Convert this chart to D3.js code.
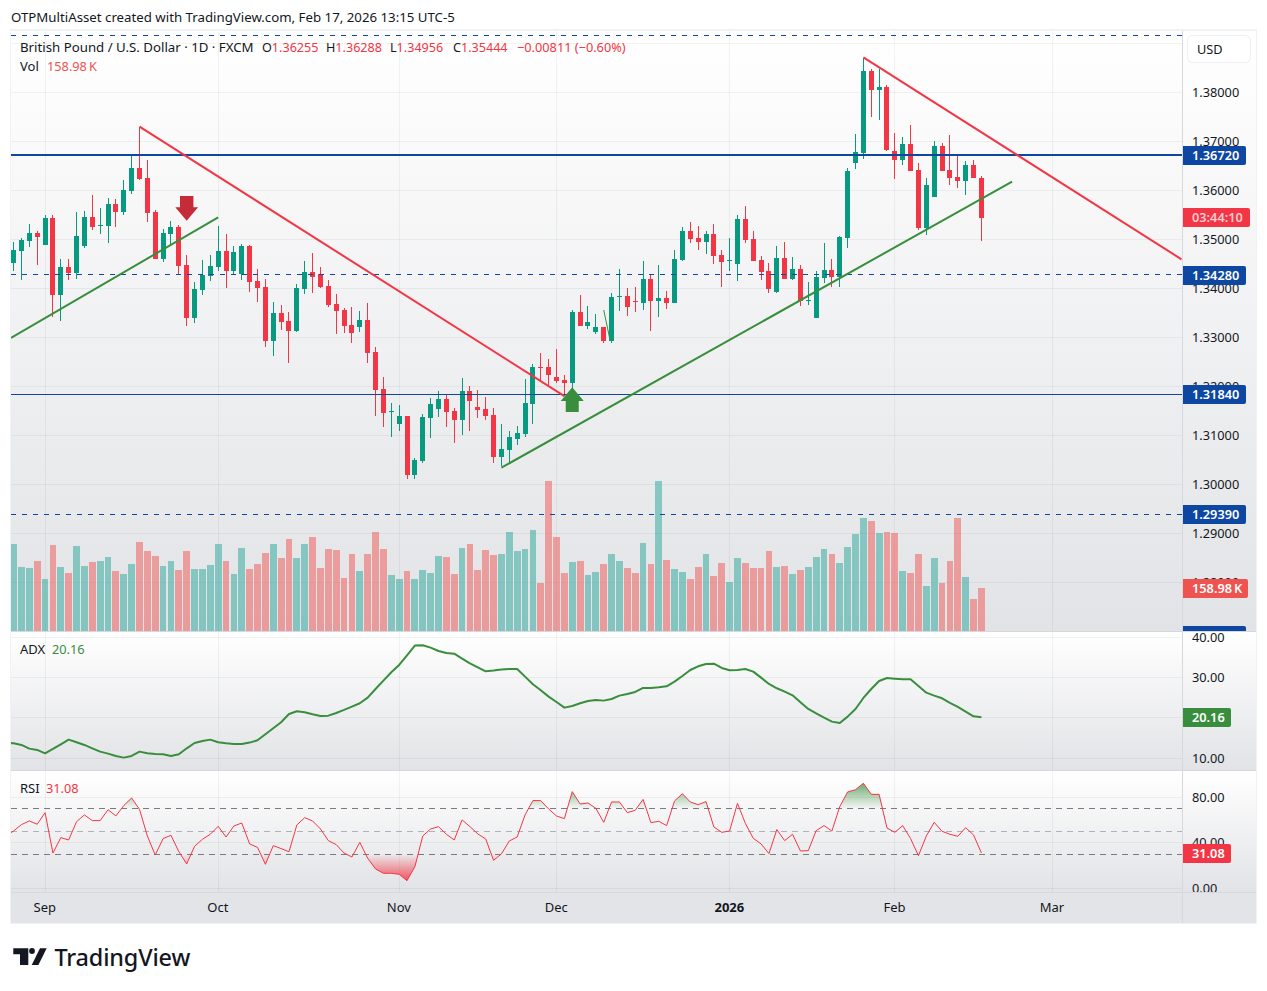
<!DOCTYPE html>
<html>
<head>
<meta charset="utf-8">
<title>GBPUSD daily</title>
<script src="https://cdn.jsdelivr.net/npm/d3@7"></script>
<style>
html,body{margin:0;padding:0;background:#fff;}
svg{display:block;}
text{font-family:"Noto Sans",sans-serif;}
</style>
</head>
<body>
<div id="chart"></div>
<script>
// Daily candles, oldest first
const opens = [1.3451,1.3477,1.3497,1.3513,1.3489,1.3544,1.3387,1.3444,1.3431,1.3487,
1.3546,1.3527,1.3527,1.3572,1.3556,1.3599,1.3646,1.3625,1.3556,1.3460,
1.3511,1.3525,1.3448,1.3340,1.3397,1.3425,1.3444,1.3476,1.3436,1.3429,
1.3487,1.3415,1.3403,1.3293,1.3350,1.3333,1.3313,1.3399,1.3433,1.3429,
1.3405,1.3368,1.3356,1.3325,1.3321,1.3335,1.3270,1.3195,1.3148,1.3123,
1.3140,1.3019,1.3048,1.3136,1.3154,1.3174,1.3150,1.3131,1.3191,1.3158,
1.3154,1.3142,1.3056,1.3070,1.3093,1.3103,1.3164,1.3240,1.3240,1.3219,
1.3213,1.3207,1.3352,1.3323,1.3311,1.3321,1.3293,1.3382,1.3384,1.3374,
1.3370,1.3419,1.3374,1.3380,1.3370,1.3458,1.3517,1.3503,1.3495,1.3511,
1.3468,1.3456,1.3450,1.3541,1.3501,1.3458,1.3435,1.3393,1.3462,1.3419,
1.3439,1.3374,1.3340,1.3421,1.3438,1.3423,1.3503,1.3656,1.3676,1.3844,
1.3805,1.3811,1.3680,1.3662,1.3695,1.3642,1.3523,1.3586,1.3690,1.3642,
1.3627,1.3619,1.3652,1.36255];
const closes = [1.3478,1.3499,1.3513,1.3504,1.3544,1.3387,1.3444,1.3431,1.3507,1.3546,
1.3525,1.3529,1.3572,1.3556,1.3601,1.3646,1.3623,1.3554,1.3460,1.3513,
1.3525,1.3446,1.3340,1.3399,1.3427,1.3446,1.3476,1.3436,1.3474,1.3487,
1.3413,1.3401,1.3293,1.3350,1.3331,1.3313,1.3401,1.3433,1.3423,1.3403,
1.3366,1.3354,1.3323,1.3309,1.3335,1.3268,1.3193,1.3146,1.3150,1.3140,
1.3019,1.3050,1.3138,1.3164,1.3174,1.3148,1.3131,1.3191,1.3170,1.3152,
1.3140,1.3056,1.3072,1.3097,1.3105,1.3166,1.3240,1.3238,1.3223,1.3211,
1.3207,1.3352,1.3323,1.3331,1.3321,1.3293,1.3382,1.3384,1.3362,1.3372,
1.3419,1.3374,1.3380,1.3370,1.3460,1.3517,1.3501,1.3495,1.3511,1.3466,
1.3454,1.3458,1.3541,1.3499,1.3456,1.3433,1.3399,1.3462,1.3419,1.3439,
1.3374,1.3376,1.3423,1.3438,1.3423,1.3505,1.3640,1.3678,1.3844,1.3805,
1.3811,1.3682,1.3662,1.3695,1.3640,1.3523,1.3611,1.3690,1.3640,1.3625,
1.3619,1.3652,1.3625,1.35444];
const highs = [1.3495,1.3502,1.3531,1.3517,1.3550,1.3550,1.3460,1.3460,1.3556,1.3558,
1.3591,1.3564,1.3585,1.3582,1.3621,1.3672,1.3730,1.3662,1.3560,1.3521,
1.3538,1.3529,1.3468,1.3413,1.3458,1.3468,1.3527,1.3511,1.3487,1.3491,
1.3489,1.3440,1.3418,1.3372,1.3366,1.3352,1.3409,1.3456,1.3472,1.3444,
1.3417,1.3388,1.3360,1.3362,1.3354,1.3370,1.3280,1.3219,1.3166,1.3162,
1.3140,1.3054,1.3144,1.3176,1.3191,1.3184,1.3156,1.3217,1.3201,1.3193,
1.3178,1.3156,1.3123,1.3109,1.3119,1.3215,1.3246,1.3268,1.3256,1.3276,
1.3223,1.3356,1.3386,1.3364,1.3348,1.3321,1.3391,1.3439,1.3401,1.3403,
1.3456,1.3427,1.3448,1.3395,1.3478,1.3525,1.3535,1.3527,1.3517,1.3531,
1.3478,1.3503,1.3550,1.3568,1.3517,1.3466,1.3452,1.3486,1.3495,1.3464,
1.3448,1.3413,1.3436,1.3493,1.3460,1.3507,1.3646,1.3715,1.3869,1.3848,
1.3848,1.3815,1.3717,1.3709,1.3733,1.3656,1.3625,1.3701,1.3697,1.3713,
1.3672,1.3660,1.3662,1.36288];
const lows = [1.3436,1.3417,1.3485,1.3448,1.3489,1.3342,1.3334,1.3417,1.3419,1.3483,
1.3519,1.3511,1.3493,1.3525,1.3550,1.3593,1.3621,1.3536,1.3460,1.3454,
1.3489,1.3427,1.3323,1.3330,1.3387,1.3415,1.3436,1.3401,1.3427,1.3417,
1.3393,1.3372,1.3280,1.3262,1.3315,1.3248,1.3311,1.3388,1.3391,1.3401,
1.3362,1.3307,1.3309,1.3289,1.3311,1.3248,1.3140,1.3117,1.3097,1.3109,
1.3011,1.3011,1.3044,1.3095,1.3138,1.3117,1.3085,1.3101,1.3109,1.3136,
1.3131,1.3044,1.3038,1.3044,1.3080,1.3097,1.3123,1.3213,1.3203,1.3207,
1.3180,1.3193,1.3323,1.3317,1.3307,1.3289,1.3289,1.3354,1.3344,1.3352,
1.3356,1.3313,1.3342,1.3358,1.3370,1.3456,1.3493,1.3478,1.3470,1.3450,
1.3403,1.3435,1.3415,1.3493,1.3456,1.3417,1.3391,1.3391,1.3419,1.3417,
1.3364,1.3366,1.3340,1.3411,1.3403,1.3403,1.3482,1.3644,1.3664,1.3750,
1.3744,1.3680,1.3623,1.3652,1.3640,1.3519,1.3509,1.3586,1.3640,1.3611,
1.3605,1.3591,1.3625,1.34956];
// Daily volume, thousands
const volumes = [321.6,236.6,232.9,258.8,192.2,317.9,236.6,214.4,314.2,240.3,
255.1,258.8,273.6,221.8,210.7,247.7,329.0,295.8,277.3,240.3,
258.8,225.5,295.8,229.2,229.2,244.0,321.6,258.8,210.7,306.8,
229.2,247.7,288.4,321.6,269.9,340.1,269.9,321.6,347.5,232.9,
303.1,299.5,195.9,284.7,221.8,284.7,366.0,303.1,207.0,192.2,
221.8,192.2,225.5,214.4,277.3,273.6,210.7,306.8,321.6,225.5,
299.5,281.0,284.7,366.0,295.8,303.1,373.4,177.5,554.5,347.5,
214.4,255.1,258.8,207.0,218.1,247.7,284.7,258.8,232.9,214.4,
325.3,247.7,554.5,262.5,229.2,218.1,192.2,236.6,284.7,203.3,
251.4,181.1,269.9,251.4,232.9,232.9,295.8,236.6,240.3,210.7,
225.5,236.6,273.6,303.1,284.7,251.4,310.5,358.6,417.7,406.7,
362.3,366.0,362.3,221.8,214.4,284.7,166.4,269.9,177.5,258.8,
417.7,199.6,118.3,158.98];
// Indicator series; the first entry belongs to the bar just left of the window
const adxValues = [13.85,13.72,13.31,12.40,12.07,11.24,12.32,13.47,14.63,13.97,13.31,
12.48,11.65,11.16,10.58,10.17,10.58,11.65,11.24,11.08,10.99,
10.58,10.99,12.48,13.80,14.30,14.63,13.97,13.72,13.55,13.55,
13.89,14.46,15.95,17.44,18.93,20.99,21.65,21.41,20.91,20.50,
20.58,21.24,21.99,22.81,23.64,25.04,27.19,29.26,31.32,33.14,
35.54,37.94,38.02,37.44,36.61,36.12,35.95,34.71,33.56,32.56,
31.57,31.74,31.99,32.15,32.15,30.25,28.35,26.86,25.29,23.97,
22.56,22.98,23.64,24.22,24.46,24.30,24.71,25.54,25.95,26.45,
27.44,27.44,27.61,27.85,29.01,30.42,31.90,32.81,33.39,33.47,
32.40,31.82,31.90,32.15,31.49,30.00,28.43,27.36,26.53,25.62,
23.89,22.23,21.16,20.07,19.09,18.76,20.33,22.23,24.96,27.19,
29.18,29.92,29.75,29.59,29.59,27.94,26.28,25.54,24.88,23.72,
22.73,21.57,20.41,20.16];
const rsiValues = [46.0,50.4,56.0,59.2,56.3,66.5,31.0,44.5,42.5,58.6,64.5,
59.5,59.5,69.1,63.6,72.7,79.4,69.4,46.0,29.3,43.7,
46.6,32.2,21.4,36.9,43.1,47.5,54.5,45.1,54.8,57.4,
39.0,36.0,21.1,37.5,34.9,32.2,55.7,62.1,59.2,52.2,
41.9,38.4,31.0,27.5,40.4,26.4,17.0,13.2,13.2,12.3,
6.7,19.0,46.0,52.2,54.2,47.5,42.5,60.1,54.2,47.8,
43.4,24.6,30.2,41.6,45.1,64.5,77.1,77.1,69.7,63.6,
61.2,85.0,74.1,75.0,70.3,58.0,75.9,75.9,66.5,68.6,
78.2,57.7,58.9,55.1,76.8,83.2,75.9,73.5,76.2,53.9,
49.2,50.4,74.7,57.1,44.0,39.0,30.5,51.6,41.9,47.5,
32.8,33.1,50.7,55.1,50.4,71.8,84.7,86.7,92.3,82.6,
82.6,53.0,49.2,55.1,43.7,28.7,46.0,58.0,50.1,47.5,
45.7,53.3,46.9,31.08];

// Axis ticks
const priceTicks = [1.39,1.38,1.37,1.36,1.35,1.34,1.33,1.32,1.31,1.30,1.29,1.28];
const priceTickLabels = [1.38,1.37,1.36,1.35,1.34,1.33,1.32,1.31,1.30,1.29,1.28];
const adxTicks = [40,30,20,10];
const rsiTicks = [80,40,0];
const monthIndex = [4,26,49,69,91,112,132];
const monthLabels = ["Sep","Oct","Nov","Dec","2026","Feb","Mar"];

// Drawn price levels
const solidLevels = [{price:1.3672,width:2},{price:1.3184,width:1}];
const dashedLevels = [1.3915,1.3428,1.2939];
const levelTags = [1.3672,1.3428,1.3184,1.2939,1.2693];

// Trend lines as [bar index, price] ends
const redTrends = [[[16,1.3730],[70,1.3180]],[[108,1.38714],[148.43,1.34592]]];
const greenTrends = [[[-0.33,1.32986],[26,1.35449]],[[62,1.30339],[126.9,1.36176]],[[75,1.33557],[75.8,1.32945]]];
const sellArrow = {index:22,price:1.3538};
const buyArrow = {index:71,price:1.3198};

const W = 1267, H = 991;
const plotL = 11, plotR = 1182, panelR = 1256;
const upColor = "#089981", downColor = "#f23645", levelBlue = "#0d47a1", adxGreen = "#388e3c";
const gridColor = "rgba(42,46,57,0.06)", fontStack = '"Noto Sans",sans-serif';

const x = d3.scaleLinear().domain([0,123]).range([13.6,981.4]);
const y = d3.scaleLinear().domain([1.30,1.38]).range([484.3,92.3]);
const yVol = d3.scaleLinear().domain([0,554.5]).range([631,481]);
const yAdx = d3.scaleLinear().domain([10,40]).range([758.3,637.3]);
const yRsi = d3.scaleLinear().domain([0,80]).range([888.3,797.3]);
const snap = v => Math.floor(v)+0.5;
// Indicator arrays carry one leading value, so position i sits at bar i-1
const xInd = (d,i) => x(i-1);

const svg = d3.select("#chart").append("svg").attr("width",W).attr("height",H);
const defs = svg.append("defs");

function paneGradient(id){
  const g = defs.append("linearGradient").attr("id",id).attr("x1",0).attr("x2",0).attr("y1",0).attr("y2",1);
  g.append("stop").attr("offset",0).attr("stop-color","#ffffff");
  g.append("stop").attr("offset",1).attr("stop-color","#e2e3e6");
}
paneGradient("paneFill");

function clip(id,x0,y0,x1,y1){
  defs.append("clipPath").attr("id",id).append("rect").attr("x",x0).attr("y",y0).attr("width",x1-x0).attr("height",y1-y0);
}
clip("pricePlot",plotL,30,plotR,631);
clip("priceAxis",plotR,30,panelR,631);
clip("adxPlot",plotL,632,plotR,770);
clip("rsiPlot",plotL,771,plotR,892);
clip("rsiAxis",plotR,771,panelR,892);
clip("adxAxis",plotR,632,panelR,770);
clip("rsiOver",plotL,771,plotR,yRsi(70));
clip("rsiUnder",plotL,yRsi(30),plotR,892);

// Panel frame and pane backgrounds
svg.append("rect").attr("x",10).attr("y",29).attr("width",panelR-9).attr("height",895).attr("fill","#f1f2f4");
[[31,631],[632,770],[771,892]].forEach(([a,b])=>{
  svg.append("rect").attr("x",plotL).attr("y",a).attr("width",panelR-plotL).attr("height",b-a).attr("fill","url(#paneFill)");
});
svg.append("rect").attr("x",plotL).attr("y",892).attr("width",panelR-plotL).attr("height",31).attr("fill","#e3e4e7");

// Grid
const monthX = monthIndex.map(i=>snap(x(i)));
const grid = svg.append("g").attr("stroke",gridColor).attr("stroke-width",1);
[[31,631],[632,770],[771,892]].forEach(([a,b])=>{
  monthX.forEach(mx=>grid.append("line").attr("x1",mx).attr("x2",mx).attr("y1",a).attr("y2",b));
});
priceTicks.forEach(p=>grid.append("line").attr("x1",plotL).attr("x2",plotR).attr("y1",snap(y(p))).attr("y2",snap(y(p))));
adxTicks.forEach(v=>grid.append("line").attr("x1",plotL).attr("x2",plotR).attr("y1",snap(yAdx(v))).attr("y2",snap(yAdx(v))));
rsiTicks.forEach(v=>grid.append("line").attr("x1",plotL).attr("x2",plotR).attr("y1",snap(yRsi(v))).attr("y2",snap(yRsi(v))));

// Main pane
const price = svg.append("g").attr("clip-path","url(#pricePlot)");
const bars = d3.range(opens.length).map(i=>({i,o:opens[i],c:closes[i],h:highs[i],l:lows[i],v:volumes[i],up:closes[i]>=opens[i]}));

price.append("g").selectAll("rect").data(bars).join("rect")
  .attr("x",d=>Math.round(x(d.i)-3.4))
  .attr("width",d=>Math.round(x(d.i)+3.4)-Math.round(x(d.i)-3.4))
  .attr("y",d=>yVol(d.v))
  .attr("height",d=>yVol(0)-yVol(d.v))
  .attr("fill",d=>d.up?"#26a69a":"#ef5350")
  .attr("fill-opacity",0.5)
  .attr("shape-rendering","crispEdges");

const candle = price.append("g").attr("shape-rendering","crispEdges").selectAll("g").data(bars).join("g")
  .attr("fill",d=>d.up?upColor:downColor);
candle.append("rect").attr("x",d=>Math.round(x(d.i)-0.5)).attr("width",1)
  .attr("y",d=>y(d.h)).attr("height",d=>y(d.l)-y(d.h));
candle.append("rect").attr("x",d=>Math.round(x(d.i)-0.5)-2).attr("width",5)
  .attr("y",d=>Math.round(y(Math.max(d.o,d.c))))
  .attr("height",d=>Math.max(1,Math.round(y(Math.min(d.o,d.c)))-Math.round(y(Math.max(d.o,d.c)))));

// Horizontal levels
solidLevels.forEach(l=>{
  const ly = l.width===2?Math.round(y(l.price)):snap(y(l.price));
  price.append("line").attr("x1",plotL).attr("x2",plotR).attr("y1",ly).attr("y2",ly)
    .attr("stroke",levelBlue).attr("stroke-width",l.width);
});
dashedLevels.forEach(p=>{
  price.append("line").attr("x1",plotL).attr("x2",plotR).attr("y1",snap(y(p))).attr("y2",snap(y(p)))
    .attr("stroke",levelBlue).attr("stroke-width",1).attr("stroke-dasharray","5,6");
});

// Trend lines
const trendLine = d3.line().x(d=>x(d[0])).y(d=>y(d[1]));
redTrends.forEach(t=>price.append("path").attr("d",trendLine(t)).attr("fill","none").attr("stroke",downColor).attr("stroke-width",2));
greenTrends.forEach((t,k)=>price.append("path").attr("d",trendLine(t)).attr("fill","none").attr("stroke",adxGreen).attr("stroke-width",k===2?1:2));

// Signal arrows, anchored on their tips
price.append("path").attr("transform",`translate(${x(sellArrow.index)},${y(sellArrow.price)})`)
  .attr("d","M0,0L-11.4,-13.4L-6.7,-13.4L-6.7,-24.7L6.7,-24.7L6.7,-13.4L11.4,-13.4Z").attr("fill","#c62b3a");
price.append("path").attr("transform",`translate(${x(buyArrow.index)},${y(buyArrow.price)})`)
  .attr("d","M0,0L-11.5,13.7L-6.5,13.7L-6.5,24.7L6.5,24.7L6.5,13.7L11.5,13.7Z").attr("fill",adxGreen);

// ADX pane
const adxLine = d3.line().x(xInd).y(d=>yAdx(d));
svg.append("path").attr("clip-path","url(#adxPlot)").attr("d",adxLine(adxValues)).attr("fill","none").attr("stroke",adxGreen).attr("stroke-width",2).attr("stroke-linejoin","round");

// RSI pane
const rsiBands = svg.append("g").attr("stroke-width",1).attr("stroke-dasharray","6,5");
[[70,"#787b86"],[50,"rgba(120,123,134,0.55)"],[30,"#787b86"]].forEach(([v,c])=>{
  rsiBands.append("line").attr("x1",plotL).attr("x2",plotR).attr("y1",snap(yRsi(v))).attr("y2",snap(yRsi(v))).attr("stroke",c);
});
const gOver = defs.append("linearGradient").attr("id","rsiOverFill").attr("gradientUnits","userSpaceOnUse")
  .attr("x1",0).attr("x2",0).attr("y1",yRsi(93)).attr("y2",yRsi(70));
gOver.append("stop").attr("offset",0).attr("stop-color",adxGreen).attr("stop-opacity",0.75);
gOver.append("stop").attr("offset",1).attr("stop-color",adxGreen).attr("stop-opacity",0);
const gUnder = defs.append("linearGradient").attr("id","rsiUnderFill").attr("gradientUnits","userSpaceOnUse")
  .attr("x1",0).attr("x2",0).attr("y1",yRsi(30)).attr("y2",yRsi(6));
gUnder.append("stop").attr("offset",0).attr("stop-color",downColor).attr("stop-opacity",0);
gUnder.append("stop").attr("offset",1).attr("stop-color",downColor).attr("stop-opacity",0.85);
svg.append("path").attr("clip-path","url(#rsiOver)").attr("fill","url(#rsiOverFill)")
  .attr("d",d3.area().x(xInd).y0(yRsi(70)).y1(d=>yRsi(d))(rsiValues));
svg.append("path").attr("clip-path","url(#rsiUnder)").attr("fill","url(#rsiUnderFill)")
  .attr("d",d3.area().x(xInd).y0(yRsi(30)).y1(d=>yRsi(d))(rsiValues));
svg.append("path").attr("clip-path","url(#rsiPlot)").attr("d",d3.line().x(xInd).y(d=>yRsi(d))(rsiValues)).attr("fill","none").attr("stroke",downColor).attr("stroke-width",1);

// Pane separators
const seps = svg.append("g").attr("stroke","#d6d8de").attr("stroke-width",1);
[631.5,770.5,892.5].forEach(v=>seps.append("line").attr("x1",plotL).attr("x2",panelR).attr("y1",v).attr("y2",v));
seps.append("line").attr("x1",plotR+0.5).attr("x2",plotR+0.5).attr("y1",31).attr("y2",923);

// Right-hand axes
function valueAxis(scale,ticks,digits,clipId){
  const ax = d3.axisRight(scale).tickValues(ticks).tickSize(0).tickPadding(0).tickFormat(d3.format("."+digits+"f"));
  const g = svg.append("g").attr("clip-path",`url(#${clipId})`).append("g").attr("transform","translate(1192,0)").call(ax);
  g.select(".domain").remove();
  g.selectAll("text").attr("font-size",12.75).attr("font-family",fontStack).attr("fill","#131722");
}
valueAxis(y,priceTickLabels,5,"priceAxis");
valueAxis(yAdx,adxTicks,2,"adxAxis");
valueAxis(yRsi,rsiTicks,2,"rsiAxis");

// Bottom time axis
const timeAxis = d3.axisBottom(x).tickValues(monthIndex).tickSize(0).tickPadding(0).tickFormat((d,i)=>monthLabels[i]);
const tg = svg.append("g").attr("transform","translate(-0.8,903)").call(timeAxis);
tg.select(".domain").remove();
tg.selectAll("text").attr("font-size",13).attr("font-family",fontStack).attr("fill","#131722")
  .attr("font-weight",d=>d===91?700:400);

// Axis tags
function tag(clipId,cy,w,h,fill,label,color){
  const g = svg.append("g").attr("clip-path",`url(#${clipId})`);
  g.append("path").attr("d",`M${plotR+1},${cy-h/2}H${plotR+1+w-2}q2,0 2,2V${cy+h/2-2}q0,2 -2,2H${plotR+1}Z`).attr("fill",fill);
  g.append("text").attr("x",1192).attr("y",cy).attr("dy","0.36em").attr("font-size",12.75).attr("font-weight",600)
    .attr("fill",color||"#fff").text(label);
}
levelTags.forEach(p=>tag("priceAxis",Math.round(y(p))+0.5,63,19,levelBlue,d3.format(".5f")(p)));
tag("priceAxis",217.5,67,19,downColor,"03:44:10","#ffc9cd");
tag("priceAxis",588.5,65,19,"#ef5350","158.98\u2009K");
tag("adxAxis",717.5,48,19,adxGreen,"20.16");
tag("rsiAxis",853.5,48,19,downColor,"31.08");

// Currency button
svg.append("rect").attr("x",1187.5).attr("y",35.5).attr("width",63).attr("height",27).attr("rx",5)
  .attr("fill","#ffffff").attr("stroke","#eeeff2");
svg.append("text").attr("x",1197).attr("y",49).attr("dy","0.36em").attr("font-size",12.75).attr("fill","#131722").text("USD");

// Legends
function legendRow(px,py,parts,size){
  const t = svg.append("text").attr("x",px).attr("y",py).attr("dy","0.36em").attr("font-size",size||13);
  parts.forEach(([s,c])=>t.append("tspan").attr("fill",c).attr("xml:space","preserve").text(s));
}
svg.append("text").attr("x",11).attr("y",17).attr("dy","0.36em").attr("font-size",13.25).attr("fill","#131722")
  .text("OTPMultiAsset created with TradingView.com, Feb 17, 2026 13:15 UTC-5");
const ink = "#131722";
legendRow(20,47,[["British Pound / U.S. Dollar · 1D · FXCM",ink]],13.25);
[[262,"O","1.36255"],[326,"H","1.36288"],[390,"L","1.34956"],[453,"C","1.35444"]].forEach(([px,k,v])=>{
  legendRow(px,47,[[k,ink],[v,downColor]],12.6);
});
legendRow(517,47,[["−0.00811 (−0.60%)",downColor]],12.75);
legendRow(20,66,[["Vol",ink]]);
legendRow(47,66,[["158.98\u2009K","#ef5350"]],12.75);
legendRow(20,649,[["ADX",ink]]);
legendRow(52,649,[["20.16",adxGreen]],12.75);
legendRow(20,788,[["RSI",ink]]);
legendRow(46,788,[["31.08",downColor]],12.75);

// Brand mark
const brand = svg.append("g").attr("fill","#131722");
brand.append("path").attr("d","M13.3,948.3H28.3V965H20V954.3H13.3Z");
brand.append("circle").attr("cx",32).attr("cy",951).attr("r",2.9);
brand.append("path").attr("d","M40,948.3H46.7L38.4,965H31.7Z");
svg.append("text").attr("x",54.5).attr("y",966).attr("font-family","Inter,sans-serif").attr("font-size",23.4).attr("font-weight",500).attr("letter-spacing",-0.15)
  .attr("fill","#131722").text("TradingView");
</script>
</body>
</html>
